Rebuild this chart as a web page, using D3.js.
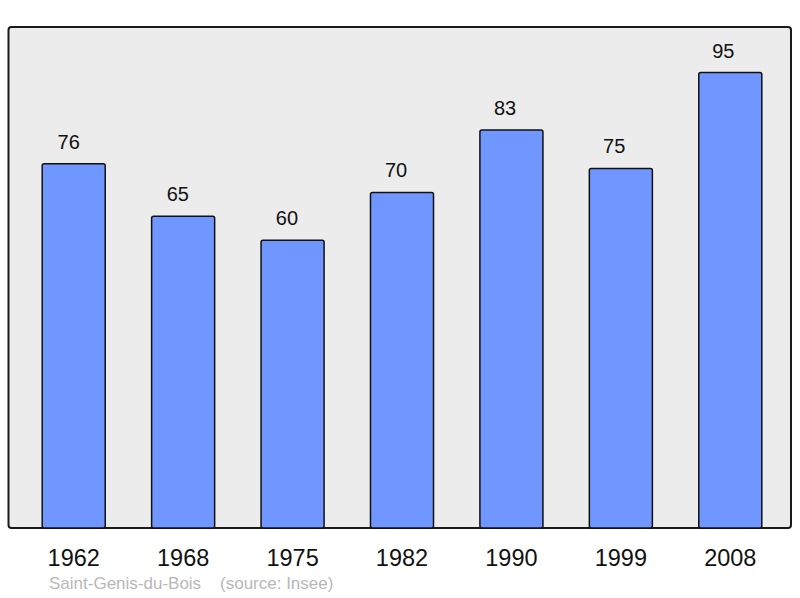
<!DOCTYPE html>
<html>
<head>
<meta charset="utf-8">
<script src="https://cdn.jsdelivr.net/npm/d3@7"></script>
<style>
  body { margin: 0; background: #fff; }
  text { font-family: "Liberation Sans", Arial, sans-serif; }
</style>
</head>
<body>
<div id="chart"></div>
<script>
// data
var years = ["1962", "1968", "1975", "1982", "1990", "1999", "2008"];
var population = [76, 65, 60, 70, 83, 75, 95];
var caption = "Saint-Genis-du-Bois";
var source = "(source: Insee)";

var width = 800, height = 598;
var frame = {left: 8.5, top: 27, right: 791, bottom: 528};

var svg = d3.select("#chart")
  .append("svg")
  .attr("width", width)
  .attr("height", height);

// scales
var x = d3.scaleBand()
  .domain(years)
  .range([19, 785])
  .paddingInner(0.424)
  .paddingOuter(0.212);

// value labels sit a little left of the bar centres
var xLabel = d3.scalePoint()
  .domain(years)
  .range([68.7, 723.3]);

var y = d3.scaleLinear()
  .domain([0, d3.max(population) * 1.1])
  .range([frame.bottom, frame.top]);

// plot background
svg.append("rect")
  .attr("x", frame.left)
  .attr("y", frame.top)
  .attr("width", frame.right - frame.left)
  .attr("height", frame.bottom - frame.top)
  .attr("rx", 3)
  .attr("fill", "#ececec")
  .attr("stroke", "#1a1a1a")
  .attr("stroke-width", 2);

var data = years.map(function(yr, i) { return {year: yr, value: population[i]}; });

// bars
svg.selectAll("rect.bar")
  .data(data)
  .enter().append("rect")
  .attr("class", "bar")
  .attr("x", function(d) { return x(d.year); })
  .attr("y", function(d) { return y(d.value); })
  .attr("width", x.bandwidth())
  .attr("height", function(d) { return y(0) - y(d.value); })
  .attr("rx", 2)
  .attr("fill", "#7096ff")
  .attr("stroke", "#111")
  .attr("stroke-width", 1.5);

// value labels
svg.selectAll("text.value")
  .data(data)
  .enter().append("text")
  .attr("class", "value")
  .attr("x", function(d) { return xLabel(d.year); })
  .attr("y", function(d) { return y(d.value) - 15; })
  .attr("text-anchor", "middle")
  .attr("font-size", 20)
  .attr("fill", "#111")
  .text(function(d) { return d.value; });

// x axis labels
var xAxis = d3.axisBottom(x).tickSize(0).tickPadding(0);
var gx = svg.append("g")
  .attr("transform", "translate(0," + frame.bottom + ")")
  .call(xAxis);
gx.select(".domain").remove();
gx.selectAll("text")
  .attr("y", 38)
  .attr("dy", 0)
  .attr("font-size", 23.5)
  .attr("font-family", "Liberation Sans, Arial, sans-serif")
  .attr("fill", "#111");

// caption
svg.append("text")
  .attr("x", 49)
  .attr("y", 589)
  .attr("font-size", 17)
  .attr("fill", "#b8b8b8")
  .attr("xml:space", "preserve")
  .text(caption + "    " + source);
</script>
</body>
</html>
